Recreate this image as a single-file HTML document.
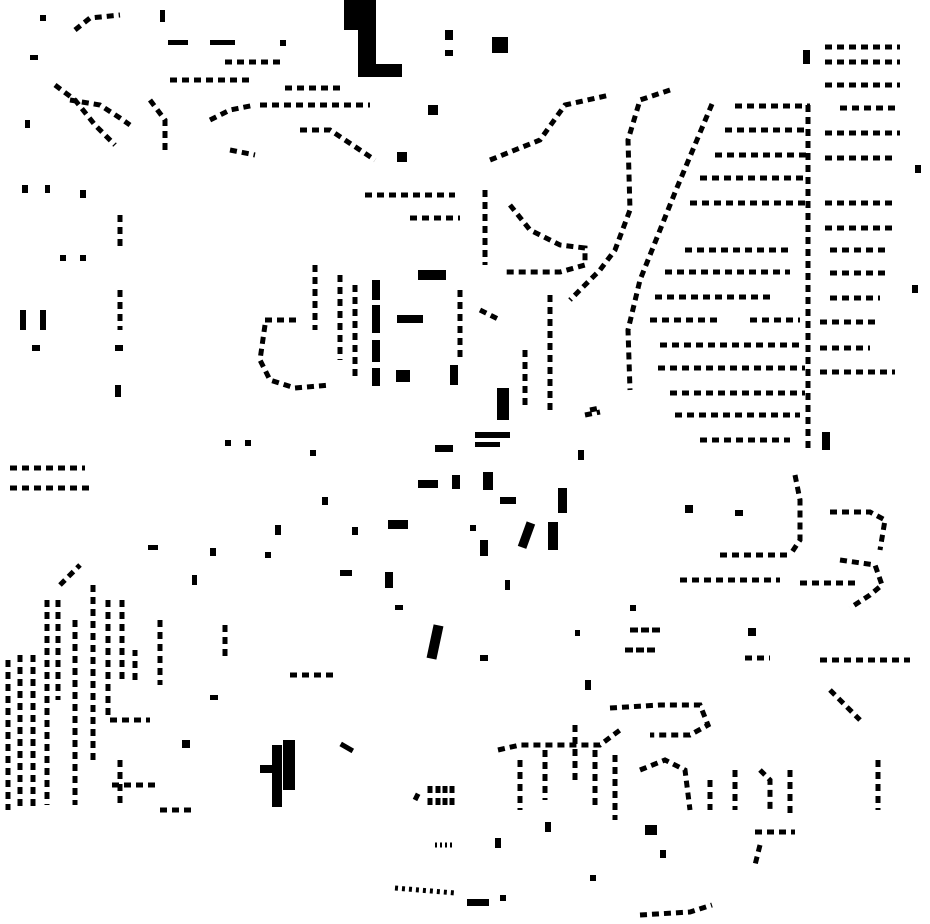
<!DOCTYPE html>
<html><head><meta charset="utf-8"><style>html,body{margin:0;padding:0;background:#fff}svg{display:block}</style></head>
<body>
<svg width="930" height="924" viewBox="0 0 930 924" xmlns="http://www.w3.org/2000/svg">
<g fill="#000">
<!-- large L -->
<rect x="344" y="0" width="30" height="30"/>
<rect x="358" y="0" width="18" height="76"/>
<rect x="358" y="64" width="44" height="13"/>
<rect x="492" y="37" width="16" height="16"/>
<rect x="497" y="388" width="12" height="32"/>
<rect x="430" y="625" width="10" height="34" transform="rotate(12 435 642)"/>
<rect x="522" y="522" width="9" height="26" transform="rotate(20 526 535)"/>
<rect x="548" y="522" width="10" height="28"/>
<rect x="558" y="488" width="9" height="25"/>
<rect x="372" y="280" width="8" height="20"/>
<rect x="372" y="305" width="8" height="28"/>
<rect x="372" y="340" width="8" height="22"/>
<rect x="372" y="368" width="8" height="18"/>
<rect x="397" y="315" width="26" height="8"/>
<rect x="418" y="270" width="28" height="10"/>
<rect x="272" y="745" width="10" height="62"/>
<rect x="283" y="740" width="12" height="50"/>
<rect x="260" y="765" width="22" height="8"/>
<rect x="467" y="899" width="22" height="7"/>
<rect x="418" y="480" width="20" height="8"/>
<rect x="452" y="475" width="8" height="14"/>
<rect x="483" y="472" width="10" height="18"/>
<rect x="388" y="520" width="20" height="9"/>
<rect x="475" y="432" width="35" height="6"/>
<rect x="475" y="442" width="25" height="5"/>
<rect x="435" y="445" width="18" height="7"/>
<rect x="396" y="370" width="14" height="12"/>
<rect x="450" y="365" width="8" height="20"/>
<rect x="428" y="105" width="10" height="10"/>
<rect x="397" y="152" width="10" height="10"/>
<rect x="803" y="50" width="7" height="14"/>
<rect x="500" y="497" width="16" height="7"/>
<rect x="645" y="825" width="12" height="10"/>
<rect x="415" y="785" width="40" height="22" fill="none"/>
</g>
<g fill="none" stroke="#000" stroke-width="5" stroke-dasharray="7 5">
<!-- diagonal road rows -->
<path d="M712,104 L676,190 L640,280 L628,330 L630,390"/>
<path d="M670,90 L640,100 L628,140 L630,210 L615,250 L600,270 L570,300"/>
<path d="M490,160 L540,140 L565,105 L610,95"/>
<path d="M510,205 L530,230 L560,245 L585,248 L585,265 L560,272 L505,272"/>
<path d="M485,190 L485,265"/>
<!-- right grid rows -->
<path d="M735,106 H810"/><path d="M725,130 H808"/><path d="M715,155 H808"/><path d="M700,178 H808"/>
<path d="M690,203 H808"/><path d="M685,250 H790"/><path d="M665,272 H790"/><path d="M655,297 H770"/>
<path d="M650,320 H720"/><path d="M750,320 H800"/><path d="M660,345 H800"/><path d="M658,368 H805"/>
<path d="M670,393 H805"/><path d="M675,415 H800"/><path d="M700,440 H790"/>
<path d="M808,105 V450"/>
<path d="M825,47 H900"/><path d="M825,62 H900"/><path d="M825,85 H900"/><path d="M840,108 H900"/>
<path d="M825,133 H900"/><path d="M825,158 H895"/><path d="M825,203 H895"/><path d="M825,228 H895"/>
<path d="M830,250 H890"/><path d="M830,273 H890"/><path d="M830,298 H880"/><path d="M820,322 H875"/>
<path d="M820,348 H870"/><path d="M820,372 H895"/>
<!-- upper-left curves -->
<path d="M75,30 L90,18 L120,15"/>
<path d="M55,85 L75,100 L95,125 L115,145"/>
<path d="M70,100 L100,105 L120,118 L130,125"/>
<path d="M150,100 L165,120 L165,155"/>
<path d="M210,120 L230,110 L255,105"/>
<path d="M260,105 H370"/>
<path d="M300,130 L330,130 L360,150 L375,160"/>
<path d="M230,150 L255,155"/>
<path d="M170,80 H250"/><path d="M225,62 H280"/><path d="M285,88 H340"/>
<path d="M365,195 H455"/><path d="M410,218 H460"/>
<path d="M120,215 V250"/><path d="M120,290 V330"/>
<!-- middle block curves -->
<path d="M315,265 V330"/><path d="M340,275 V360"/><path d="M355,285 V380"/>
<path d="M265,325 L260,360 L270,380 L295,388 L330,385"/>
<path d="M265,320 H300"/>
<path d="M460,290 V360"/><path d="M550,295 V410"/><path d="M525,350 V410"/>
<path d="M480,310 L500,320"/>
<!-- lower right -->
<path d="M795,475 L800,500 L800,540 L790,555"/>
<path d="M830,512 H870 L885,520 L880,550"/>
<path d="M840,560 L875,565 L882,585 L870,595 L850,608"/>
<path d="M720,555 H790"/><path d="M680,580 H780"/><path d="M800,583 H860"/>
<path d="M745,658 H770"/><path d="M820,660 H910"/>
<path d="M610,708 L660,705 L700,705 L708,725 L690,735 L650,735"/>
<path d="M498,750 L520,745 L560,745 L600,745 L620,730"/>
<path d="M520,760 V810"/><path d="M545,750 V800"/><path d="M575,725 V780"/>
<path d="M595,750 V810"/><path d="M615,755 V820"/><path d="M640,770 L665,760 L685,770 L690,810"/>
<path d="M710,780 V810"/><path d="M735,770 V810"/><path d="M760,770 L770,780 L770,810"/>
<path d="M790,770 V815"/><path d="M755,832 H795"/><path d="M760,845 L755,865"/>
<path d="M640,915 L690,912 L712,905"/>
<path d="M878,760 V810"/><path d="M830,690 L860,720"/>
<!-- lower left columns -->
<path d="M8,660 V810"/><path d="M20,655 V808"/><path d="M33,655 V808"/><path d="M47,600 V805"/>
<path d="M58,600 V700"/><path d="M75,620 V805"/><path d="M93,585 V760"/><path d="M108,600 V720"/>
<path d="M122,600 V680"/><path d="M60,585 L80,565"/>
<path d="M112,785 H160"/><path d="M110,720 H150"/><path d="M135,680 V650"/><path d="M160,620 V685"/>
<path d="M120,760 V805"/><path d="M160,810 H195"/>
<path d="M10,468 H85"/><path d="M10,488 H90"/>
<path d="M225,625 V660"/><path d="M290,675 H335"/>
<!-- misc -->
<path d="M590,410 L600,408 M585,415 L600,412"/>
<path d="M415,800 L420,790 M430,805 V785 M438,805 V785 M445,805 V785 M452,805 V785"/>
<path d="M395,888 L455,893" stroke-dasharray="3 4"/>
<path d="M435,845 H455" stroke-dasharray="2 3"/>
<path d="M630,630 H660" stroke-dasharray="8 3"/>
<path d="M625,650 H655" stroke-dasharray="8 3"/>
</g>
<g fill="#000">
<rect x="40" y="15" width="6" height="6"/><rect x="160" y="10" width="5" height="12"/>
<rect x="168" y="40" width="20" height="5"/><rect x="210" y="40" width="25" height="5"/><rect x="280" y="40" width="6" height="6"/>
<rect x="30" y="55" width="8" height="5"/><rect x="25" y="120" width="5" height="8"/><rect x="22" y="185" width="6" height="8"/>
<rect x="45" y="185" width="5" height="8"/><rect x="80" y="190" width="6" height="8"/><rect x="60" y="255" width="6" height="6"/>
<rect x="80" y="255" width="6" height="6"/><rect x="20" y="310" width="6" height="20"/><rect x="40" y="310" width="6" height="20"/>
<rect x="32" y="345" width="8" height="6"/><rect x="115" y="385" width="6" height="12"/><rect x="115" y="345" width="8" height="6"/>
<rect x="445" y="30" width="8" height="10"/><rect x="445" y="50" width="8" height="6"/>
<rect x="225" y="440" width="6" height="6"/><rect x="245" y="440" width="6" height="6"/><rect x="310" y="450" width="6" height="6"/>
<rect x="148" y="545" width="10" height="5"/><rect x="192" y="575" width="5" height="10"/><rect x="210" y="548" width="6" height="8"/>
<rect x="340" y="570" width="12" height="6"/><rect x="385" y="572" width="8" height="16"/><rect x="395" y="605" width="8" height="5"/>
<rect x="480" y="655" width="8" height="6"/><rect x="505" y="580" width="5" height="10"/><rect x="585" y="680" width="6" height="10"/>
<rect x="578" y="450" width="6" height="10"/><rect x="575" y="630" width="5" height="6"/><rect x="630" y="605" width="6" height="6"/>
<rect x="685" y="505" width="8" height="8"/><rect x="735" y="510" width="8" height="6"/><rect x="748" y="628" width="8" height="8"/>
<rect x="912" y="285" width="6" height="8"/><rect x="915" y="165" width="6" height="8"/><rect x="822" y="432" width="8" height="18"/>
<rect x="340" y="745" width="14" height="5" transform="rotate(30 347 747)"/><rect x="210" y="695" width="8" height="5"/>
<rect x="182" y="740" width="8" height="8"/><rect x="590" y="875" width="6" height="6"/><rect x="495" y="838" width="6" height="10"/>
<rect x="545" y="822" width="6" height="10"/><rect x="660" y="850" width="6" height="8"/><rect x="500" y="895" width="6" height="6"/>
<rect x="480" y="540" width="8" height="16"/><rect x="470" y="525" width="6" height="6"/><rect x="322" y="497" width="6" height="8"/>
<rect x="352" y="527" width="6" height="8"/><rect x="275" y="525" width="6" height="10"/><rect x="265" y="552" width="6" height="6"/>
</g>
</svg>
</body></html>
